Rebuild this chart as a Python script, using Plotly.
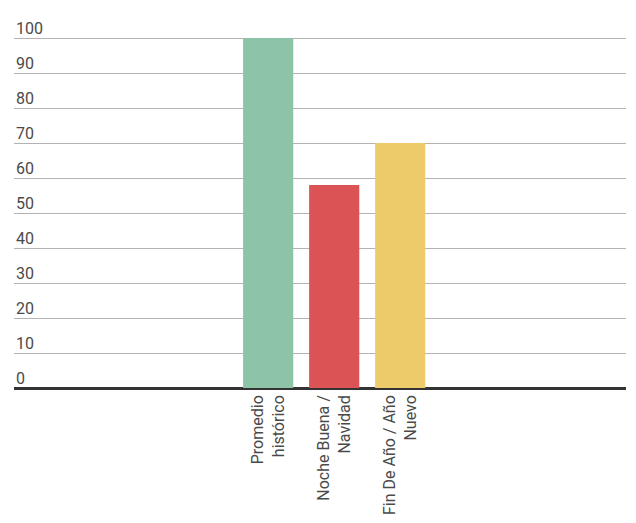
import plotly.graph_objects as go

categories = ["Promedio<br>histórico", "Noche Buena /<br>Navidad", "Fin De Año / Año<br>Nuevo"]
values = [100, 58, 70]
colors = ["#8dc3a7", "#dc5356", "#eecb6a"]
y_ticks = [0, 10, 20, 30, 40, 50, 60, 70, 80, 90, 100]

fig = go.Figure(go.Bar(
    x=categories, y=values, marker_color=colors, width=0.76,
    marker_line_width=0, hoverinfo="skip",
))

annotations = [
    dict(x=0, xref="paper", y=v, yref="y", text=str(v), showarrow=False,
         xanchor="left", yanchor="bottom", yshift=-2,
         font=dict(family="Roboto", size=16, color="#4a4a4a"))
    for v in y_ticks
]

fig.update_layout(
    width=628, height=515,
    margin=dict(l=6, r=10, t=29, b=135, autoexpand=False),
    paper_bgcolor="white", plot_bgcolor="white",
    font=dict(family="Roboto", size=16, color="#4a4a4a"),
    showlegend=False,
    annotations=annotations,
)
fig.update_xaxes(
    type="category", range=[-3.85, 5.42], tickangle=-90, automargin=False,
    showgrid=False, showline=False, zeroline=False, ticks="",
    ticklabelstandoff=3,
    tickfont=dict(size=16, color="#4a4a4a"),
)
fig.update_yaxes(
    range=[0, 100.3], tickvals=y_ticks, showticklabels=False, automargin=False,
    showgrid=True, gridcolor="#b3b3b3", gridwidth=1,
    zeroline=True, zerolinecolor="#333333", zerolinewidth=3,
    showline=False, ticks="",
)

fig.write_html("out.html")
